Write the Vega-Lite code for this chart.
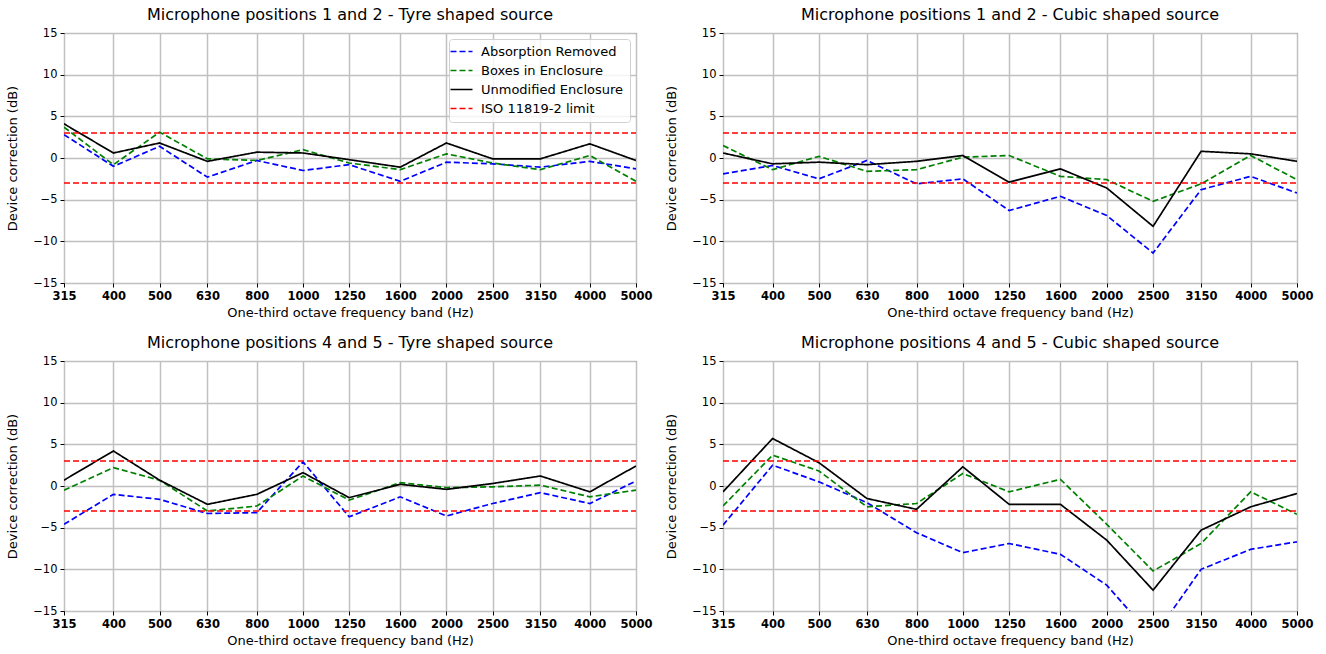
{
  "$schema": "https://vega.github.io/schema/vega-lite/v6.json",
  "padding": {"left": 6, "top": 6, "right": 5, "bottom": 5},
  "background": "white",
  "datasets": {
    "main": [
      {"p":1,"s":"Absorption Removed","f":315,"v":2.8},{"p":1,"s":"Absorption Removed","f":400,"v":-1.0},{"p":1,"s":"Absorption Removed","f":500,"v":1.4},{"p":1,"s":"Absorption Removed","f":630,"v":-2.3},{"p":1,"s":"Absorption Removed","f":800,"v":-0.3},{"p":1,"s":"Absorption Removed","f":1000,"v":-1.5},{"p":1,"s":"Absorption Removed","f":1250,"v":-0.8},{"p":1,"s":"Absorption Removed","f":1600,"v":-2.8},{"p":1,"s":"Absorption Removed","f":2000,"v":-0.5},{"p":1,"s":"Absorption Removed","f":2500,"v":-0.7},{"p":1,"s":"Absorption Removed","f":3150,"v":-1.1},{"p":1,"s":"Absorption Removed","f":4000,"v":-0.4},{"p":1,"s":"Absorption Removed","f":5000,"v":-1.3},
      {"p":1,"s":"Boxes in Enclosure","f":315,"v":3.7},{"p":1,"s":"Boxes in Enclosure","f":400,"v":-0.8},{"p":1,"s":"Boxes in Enclosure","f":500,"v":3.1},{"p":1,"s":"Boxes in Enclosure","f":630,"v":-0.1},{"p":1,"s":"Boxes in Enclosure","f":800,"v":-0.3},{"p":1,"s":"Boxes in Enclosure","f":1000,"v":1.0},{"p":1,"s":"Boxes in Enclosure","f":1250,"v":-0.6},{"p":1,"s":"Boxes in Enclosure","f":1600,"v":-1.4},{"p":1,"s":"Boxes in Enclosure","f":2000,"v":0.5},{"p":1,"s":"Boxes in Enclosure","f":2500,"v":-0.6},{"p":1,"s":"Boxes in Enclosure","f":3150,"v":-1.4},{"p":1,"s":"Boxes in Enclosure","f":4000,"v":0.3},{"p":1,"s":"Boxes in Enclosure","f":5000,"v":-2.8},
      {"p":1,"s":"Unmodified Enclosure","f":315,"v":4.1},{"p":1,"s":"Unmodified Enclosure","f":400,"v":0.6},{"p":1,"s":"Unmodified Enclosure","f":500,"v":1.8},{"p":1,"s":"Unmodified Enclosure","f":630,"v":-0.4},{"p":1,"s":"Unmodified Enclosure","f":800,"v":0.7},{"p":1,"s":"Unmodified Enclosure","f":1000,"v":0.6},{"p":1,"s":"Unmodified Enclosure","f":1250,"v":-0.2},{"p":1,"s":"Unmodified Enclosure","f":1600,"v":-1.1},{"p":1,"s":"Unmodified Enclosure","f":2000,"v":1.8},{"p":1,"s":"Unmodified Enclosure","f":2500,"v":-0.1},{"p":1,"s":"Unmodified Enclosure","f":3150,"v":-0.1},{"p":1,"s":"Unmodified Enclosure","f":4000,"v":1.7},{"p":1,"s":"Unmodified Enclosure","f":5000,"v":-0.3},

      {"p":2,"s":"Absorption Removed","f":315,"v":-1.9},{"p":2,"s":"Absorption Removed","f":400,"v":-0.9},{"p":2,"s":"Absorption Removed","f":500,"v":-2.5},{"p":2,"s":"Absorption Removed","f":630,"v":-0.3},{"p":2,"s":"Absorption Removed","f":800,"v":-3.1},{"p":2,"s":"Absorption Removed","f":1000,"v":-2.5},{"p":2,"s":"Absorption Removed","f":1250,"v":-6.3},{"p":2,"s":"Absorption Removed","f":1600,"v":-4.6},{"p":2,"s":"Absorption Removed","f":2000,"v":-6.9},{"p":2,"s":"Absorption Removed","f":2500,"v":-11.4},{"p":2,"s":"Absorption Removed","f":3150,"v":-3.8},{"p":2,"s":"Absorption Removed","f":4000,"v":-2.2},{"p":2,"s":"Absorption Removed","f":5000,"v":-4.2},
      {"p":2,"s":"Boxes in Enclosure","f":315,"v":1.5},{"p":2,"s":"Boxes in Enclosure","f":400,"v":-1.4},{"p":2,"s":"Boxes in Enclosure","f":500,"v":0.2},{"p":2,"s":"Boxes in Enclosure","f":630,"v":-1.6},{"p":2,"s":"Boxes in Enclosure","f":800,"v":-1.4},{"p":2,"s":"Boxes in Enclosure","f":1000,"v":0.1},{"p":2,"s":"Boxes in Enclosure","f":1250,"v":0.3},{"p":2,"s":"Boxes in Enclosure","f":1600,"v":-2.2},{"p":2,"s":"Boxes in Enclosure","f":2000,"v":-2.6},{"p":2,"s":"Boxes in Enclosure","f":2500,"v":-5.2},{"p":2,"s":"Boxes in Enclosure","f":3150,"v":-3.1},{"p":2,"s":"Boxes in Enclosure","f":4000,"v":0.3},{"p":2,"s":"Boxes in Enclosure","f":5000,"v":-2.6},
      {"p":2,"s":"Unmodified Enclosure","f":315,"v":0.6},{"p":2,"s":"Unmodified Enclosure","f":400,"v":-0.7},{"p":2,"s":"Unmodified Enclosure","f":500,"v":-0.5},{"p":2,"s":"Unmodified Enclosure","f":630,"v":-0.8},{"p":2,"s":"Unmodified Enclosure","f":800,"v":-0.4},{"p":2,"s":"Unmodified Enclosure","f":1000,"v":0.3},{"p":2,"s":"Unmodified Enclosure","f":1250,"v":-2.9},{"p":2,"s":"Unmodified Enclosure","f":1600,"v":-1.3},{"p":2,"s":"Unmodified Enclosure","f":2000,"v":-3.6},{"p":2,"s":"Unmodified Enclosure","f":2500,"v":-8.2},{"p":2,"s":"Unmodified Enclosure","f":3150,"v":0.8},{"p":2,"s":"Unmodified Enclosure","f":4000,"v":0.5},{"p":2,"s":"Unmodified Enclosure","f":5000,"v":-0.4},

      {"p":3,"s":"Absorption Removed","f":315,"v":-4.6},{"p":3,"s":"Absorption Removed","f":400,"v":-1.0},{"p":3,"s":"Absorption Removed","f":500,"v":-1.6},{"p":3,"s":"Absorption Removed","f":630,"v":-3.3},{"p":3,"s":"Absorption Removed","f":800,"v":-3.2},{"p":3,"s":"Absorption Removed","f":1000,"v":2.9},{"p":3,"s":"Absorption Removed","f":1250,"v":-3.7},{"p":3,"s":"Absorption Removed","f":1600,"v":-1.3},{"p":3,"s":"Absorption Removed","f":2000,"v":-3.6},{"p":3,"s":"Absorption Removed","f":2500,"v":-2.1},{"p":3,"s":"Absorption Removed","f":3150,"v":-0.8},{"p":3,"s":"Absorption Removed","f":4000,"v":-2.1},{"p":3,"s":"Absorption Removed","f":5000,"v":0.6},
      {"p":3,"s":"Boxes in Enclosure","f":315,"v":-0.5},{"p":3,"s":"Boxes in Enclosure","f":400,"v":2.2},{"p":3,"s":"Boxes in Enclosure","f":500,"v":0.7},{"p":3,"s":"Boxes in Enclosure","f":630,"v":-3.0},{"p":3,"s":"Boxes in Enclosure","f":800,"v":-2.4},{"p":3,"s":"Boxes in Enclosure","f":1000,"v":1.2},{"p":3,"s":"Boxes in Enclosure","f":1250,"v":-1.7},{"p":3,"s":"Boxes in Enclosure","f":1600,"v":0.4},{"p":3,"s":"Boxes in Enclosure","f":2000,"v":-0.2},{"p":3,"s":"Boxes in Enclosure","f":2500,"v":-0.1},{"p":3,"s":"Boxes in Enclosure","f":3150,"v":0.1},{"p":3,"s":"Boxes in Enclosure","f":4000,"v":-1.3},{"p":3,"s":"Boxes in Enclosure","f":5000,"v":-0.5},
      {"p":3,"s":"Unmodified Enclosure","f":315,"v":0.7},{"p":3,"s":"Unmodified Enclosure","f":400,"v":4.2},{"p":3,"s":"Unmodified Enclosure","f":500,"v":0.7},{"p":3,"s":"Unmodified Enclosure","f":630,"v":-2.2},{"p":3,"s":"Unmodified Enclosure","f":800,"v":-1.0},{"p":3,"s":"Unmodified Enclosure","f":1000,"v":1.6},{"p":3,"s":"Unmodified Enclosure","f":1250,"v":-1.4},{"p":3,"s":"Unmodified Enclosure","f":1600,"v":0.2},{"p":3,"s":"Unmodified Enclosure","f":2000,"v":-0.4},{"p":3,"s":"Unmodified Enclosure","f":2500,"v":0.3},{"p":3,"s":"Unmodified Enclosure","f":3150,"v":1.2},{"p":3,"s":"Unmodified Enclosure","f":4000,"v":-0.7},{"p":3,"s":"Unmodified Enclosure","f":5000,"v":2.4},

      {"p":4,"s":"Absorption Removed","f":315,"v":-4.7},{"p":4,"s":"Absorption Removed","f":400,"v":2.5},{"p":4,"s":"Absorption Removed","f":500,"v":0.5},{"p":4,"s":"Absorption Removed","f":630,"v":-2.0},{"p":4,"s":"Absorption Removed","f":800,"v":-5.6},{"p":4,"s":"Absorption Removed","f":1000,"v":-8.0},{"p":4,"s":"Absorption Removed","f":1250,"v":-6.9},{"p":4,"s":"Absorption Removed","f":1600,"v":-8.2},{"p":4,"s":"Absorption Removed","f":2000,"v":-11.9},{"p":4,"s":"Absorption Removed","f":2500,"v":-18.2},{"p":4,"s":"Absorption Removed","f":3150,"v":-10.0},{"p":4,"s":"Absorption Removed","f":4000,"v":-7.6},{"p":4,"s":"Absorption Removed","f":5000,"v":-6.7},
      {"p":4,"s":"Boxes in Enclosure","f":315,"v":-2.4},{"p":4,"s":"Boxes in Enclosure","f":400,"v":3.7},{"p":4,"s":"Boxes in Enclosure","f":500,"v":1.8},{"p":4,"s":"Boxes in Enclosure","f":630,"v":-2.5},{"p":4,"s":"Boxes in Enclosure","f":800,"v":-2.1},{"p":4,"s":"Boxes in Enclosure","f":1000,"v":1.5},{"p":4,"s":"Boxes in Enclosure","f":1250,"v":-0.7},{"p":4,"s":"Boxes in Enclosure","f":1600,"v":0.8},{"p":4,"s":"Boxes in Enclosure","f":2000,"v":-4.6},{"p":4,"s":"Boxes in Enclosure","f":2500,"v":-10.2},{"p":4,"s":"Boxes in Enclosure","f":3150,"v":-6.9},{"p":4,"s":"Boxes in Enclosure","f":4000,"v":-0.7},{"p":4,"s":"Boxes in Enclosure","f":5000,"v":-3.4},
      {"p":4,"s":"Unmodified Enclosure","f":315,"v":-0.7},{"p":4,"s":"Unmodified Enclosure","f":400,"v":5.7},{"p":4,"s":"Unmodified Enclosure","f":500,"v":2.8},{"p":4,"s":"Unmodified Enclosure","f":630,"v":-1.5},{"p":4,"s":"Unmodified Enclosure","f":800,"v":-2.8},{"p":4,"s":"Unmodified Enclosure","f":1000,"v":2.3},{"p":4,"s":"Unmodified Enclosure","f":1250,"v":-2.2},{"p":4,"s":"Unmodified Enclosure","f":1600,"v":-2.2},{"p":4,"s":"Unmodified Enclosure","f":2000,"v":-6.5},{"p":4,"s":"Unmodified Enclosure","f":2500,"v":-12.5},{"p":4,"s":"Unmodified Enclosure","f":3150,"v":-5.3},{"p":4,"s":"Unmodified Enclosure","f":4000,"v":-2.5},{"p":4,"s":"Unmodified Enclosure","f":5000,"v":-0.9}
    ],
    "iso": [
      {"s":"ISO 11819-2 limit","g":"upper","f":315,"v":3},
      {"s":"ISO 11819-2 limit","g":"upper","f":5000,"v":3},
      {"s":"ISO 11819-2 limit","g":"lower","f":315,"v":-3},
      {"s":"ISO 11819-2 limit","g":"lower","f":5000,"v":-3}
    ]
  },
  "columns": 2,
  "spacing": {"row": 14, "column": 12},
  "resolve": {
    "scale": {"color": "independent", "strokeDash": "independent"},
    "legend": {"color": "independent", "strokeDash": "independent"}
  },
  "concat": [
    {
      "width": 572, "height": 250,
      "title": "Microphone positions 1 and 2 - Tyre shaped source",
      "encoding": {
        "x": {"field": "f", "type": "quantitative", "scale": {"type": "log", "domain": [315, 5000], "nice": false}, "axis": {"values": [315,400,500,630,800,1000,1250,1600,2000,2500,3150,4000,5000], "format": "d", "title": "One-third octave frequency band (Hz)", "labelFontWeight": "bold", "labelFontSize": 11.5}},
        "y": {"field": "v", "type": "quantitative", "scale": {"domain": [-15, 15], "nice": false}, "axis": {"values": [-15,-10,-5,0,5,10,15], "format": "d", "title": "Device correction (dB)"}},
        "color": {"field": "s", "type": "nominal", "scale": {"domain": ["Absorption Removed","Boxes in Enclosure","Unmodified Enclosure","ISO 11819-2 limit"], "range": ["#0000ff","#008000","#000000","#ff0000"]},
          "legend": {"orient": "top-right", "title": null, "offset": 6, "strokeColor": "#d0d0d0", "fillColor": "rgba(255,255,255,0.8)", "cornerRadius": 3, "padding": 6, "labelFontSize": 13, "labelColor": "#000", "symbolType": "M-2,0H2", "symbolSize": 121, "symbolStrokeWidth": 1.8, "rowPadding": 5, "labelOffset": 13}},
        "strokeDash": {"field": "s", "type": "nominal", "scale": {"domain": ["Absorption Removed","Boxes in Enclosure","Unmodified Enclosure","ISO 11819-2 limit"], "range": [[6,3],[6,3],[1,0],[6,3]]},
          "legend": {"orient": "top-right", "title": null, "offset": 6, "strokeColor": "#d0d0d0", "fillColor": "rgba(255,255,255,0.8)", "cornerRadius": 3, "padding": 6, "labelFontSize": 13, "labelColor": "#000", "symbolType": "M-2,0H2", "symbolSize": 121, "symbolStrokeWidth": 1.8, "rowPadding": 5, "labelOffset": 13}}
      },
      "layer": [
        {"data": {"name": "main"}, "transform": [{"filter": "datum.p == 1"}], "mark": {"type": "line", "clip": true}},
        {"data": {"name": "iso"}, "mark": {"type": "line", "clip": true}, "encoding": {"detail": {"field": "g"}}}
      ]
    },
    {
      "width": 574, "height": 250,
      "title": "Microphone positions  1 and 2 - Cubic shaped source",
      "encoding": {
        "x": {"field": "f", "type": "quantitative", "scale": {"type": "log", "domain": [315, 5000], "nice": false}, "axis": {"values": [315,400,500,630,800,1000,1250,1600,2000,2500,3150,4000,5000], "format": "d", "title": "One-third octave frequency band (Hz)", "labelFontWeight": "bold", "labelFontSize": 11.5}},
        "y": {"field": "v", "type": "quantitative", "scale": {"domain": [-15, 15], "nice": false}, "axis": {"values": [-15,-10,-5,0,5,10,15], "format": "d", "title": "Device correction (dB)"}},
        "color": {"field": "s", "type": "nominal", "scale": {"domain": ["Absorption Removed","Boxes in Enclosure","Unmodified Enclosure","ISO 11819-2 limit"], "range": ["#0000ff","#008000","#000000","#ff0000"]}, "legend": null},
        "strokeDash": {"field": "s", "type": "nominal", "scale": {"domain": ["Absorption Removed","Boxes in Enclosure","Unmodified Enclosure","ISO 11819-2 limit"], "range": [[6,3],[6,3],[1,0],[6,3]]}, "legend": null}
      },
      "layer": [
        {"data": {"name": "main"}, "transform": [{"filter": "datum.p == 2"}], "mark": {"type": "line", "clip": true}},
        {"data": {"name": "iso"}, "mark": {"type": "line", "clip": true}, "encoding": {"detail": {"field": "g"}}}
      ]
    },
    {
      "width": 572, "height": 250,
      "title": "Microphone positions  4 and 5 - Tyre shaped source",
      "encoding": {
        "x": {"field": "f", "type": "quantitative", "scale": {"type": "log", "domain": [315, 5000], "nice": false}, "axis": {"values": [315,400,500,630,800,1000,1250,1600,2000,2500,3150,4000,5000], "format": "d", "title": "One-third octave frequency band (Hz)", "labelFontWeight": "bold", "labelFontSize": 11.5}},
        "y": {"field": "v", "type": "quantitative", "scale": {"domain": [-15, 15], "nice": false}, "axis": {"values": [-15,-10,-5,0,5,10,15], "format": "d", "title": "Device correction (dB)"}},
        "color": {"field": "s", "type": "nominal", "scale": {"domain": ["Absorption Removed","Boxes in Enclosure","Unmodified Enclosure","ISO 11819-2 limit"], "range": ["#0000ff","#008000","#000000","#ff0000"]}, "legend": null},
        "strokeDash": {"field": "s", "type": "nominal", "scale": {"domain": ["Absorption Removed","Boxes in Enclosure","Unmodified Enclosure","ISO 11819-2 limit"], "range": [[6,3],[6,3],[1,0],[6,3]]}, "legend": null}
      },
      "layer": [
        {"data": {"name": "main"}, "transform": [{"filter": "datum.p == 3"}], "mark": {"type": "line", "clip": true}},
        {"data": {"name": "iso"}, "mark": {"type": "line", "clip": true}, "encoding": {"detail": {"field": "g"}}}
      ]
    },
    {
      "width": 574, "height": 250,
      "title": "Microphone positions  4 and 5 - Cubic shaped source",
      "encoding": {
        "x": {"field": "f", "type": "quantitative", "scale": {"type": "log", "domain": [315, 5000], "nice": false}, "axis": {"values": [315,400,500,630,800,1000,1250,1600,2000,2500,3150,4000,5000], "format": "d", "title": "One-third octave frequency band (Hz)", "labelFontWeight": "bold", "labelFontSize": 11.5}},
        "y": {"field": "v", "type": "quantitative", "scale": {"domain": [-15, 15], "nice": false}, "axis": {"values": [-15,-10,-5,0,5,10,15], "format": "d", "title": "Device correction (dB)"}},
        "color": {"field": "s", "type": "nominal", "scale": {"domain": ["Absorption Removed","Boxes in Enclosure","Unmodified Enclosure","ISO 11819-2 limit"], "range": ["#0000ff","#008000","#000000","#ff0000"]}, "legend": null},
        "strokeDash": {"field": "s", "type": "nominal", "scale": {"domain": ["Absorption Removed","Boxes in Enclosure","Unmodified Enclosure","ISO 11819-2 limit"], "range": [[6,3],[6,3],[1,0],[6,3]]}, "legend": null}
      },
      "layer": [
        {"data": {"name": "main"}, "transform": [{"filter": "datum.p == 4"}], "mark": {"type": "line", "clip": true}},
        {"data": {"name": "iso"}, "mark": {"type": "line", "clip": true}, "encoding": {"detail": {"field": "g"}}}
      ]
    }
  ],
  "config": {
    "font": "DejaVu Sans",
    "view": {"stroke": "#000000", "strokeWidth": 1},
    "axis": {"domain": false, "tickColor": "#000000", "tickSize": 4, "labelColor": "#000000", "labelFontSize": 11.5, "labelFlush": false, "labelOverlap": false, "labelPadding": 3, "titleFontSize": 13, "titleFontWeight": "normal", "titleColor": "#000000", "gridColor": "#c0c0c0", "gridWidth": 1.5},
    "axisY": {"titlePadding": 13},
    "axisX": {"titlePadding": 5},
    "title": {"fontSize": 16, "fontWeight": "normal", "color": "#000000", "offset": 0},
    "line": {"strokeWidth": 1.7}
  }
}
